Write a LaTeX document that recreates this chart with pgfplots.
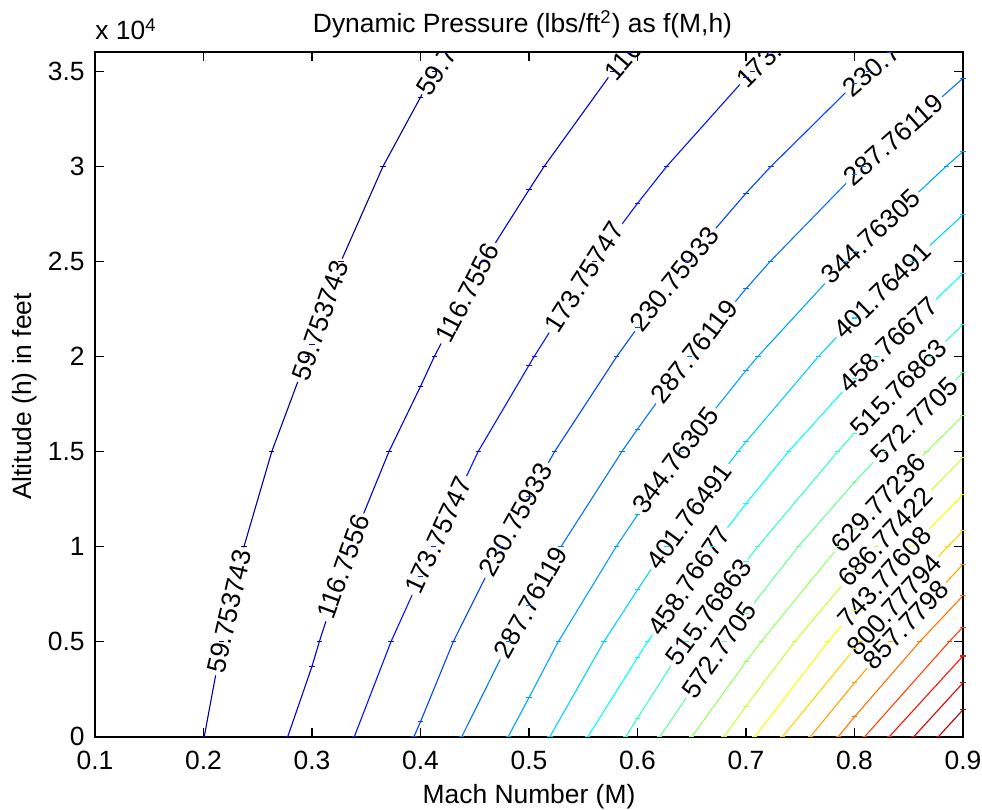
\documentclass[border=0pt]{standalone}
\usepackage{fontspec}
\setmainfont{Liberation Sans}
\usepackage{pgfplots}
\pgfplotsset{compat=1.18}
\definecolor{c1}{rgb}{0,0,0.62}
\definecolor{c2}{rgb}{0,0,0.85}
\definecolor{c3}{rgb}{0,0.07,1}
\definecolor{c4}{rgb}{0,0.26,1}
\definecolor{c5}{rgb}{0,0.45,1}
\definecolor{c6}{rgb}{0,0.64,1}
\definecolor{c7}{rgb}{0,0.83,1}
\definecolor{c8}{rgb}{0.02,1,0.98}
\definecolor{c9}{rgb}{0.21,1,0.79}
\definecolor{c10}{rgb}{0.40,1,0.60}
\definecolor{c11}{rgb}{0.60,1,0.40}
\definecolor{c12}{rgb}{0.79,1,0.21}
\definecolor{c13}{rgb}{0.98,1,0.02}
\definecolor{c14}{rgb}{1,0.83,0}
\definecolor{c15}{rgb}{1,0.64,0}
\definecolor{c16}{rgb}{1,0.45,0}
\definecolor{c17}{rgb}{1,0.26,0}
\definecolor{c18}{rgb}{1,0.07,0}
\definecolor{c19}{rgb}{0.88,0,0}
\definecolor{c20}{rgb}{0.69,0,0}
\newcommand\f{\fontsize{13.2}{15.8}\selectfont}
\tikzset{lab/.style={fill=white, inner sep=1.5pt, font=\f, text=black},
         toplab/.style={fill=white, inner sep=0.8pt, font=\f, text=black, anchor=west}}
\begin{document}
\begin{tikzpicture}
\useasboundingbox (-47.5pt,-36.65pt) rectangle (443.5pt,368.35pt);
\begin{axis}[
  at={(0pt,0pt)}, anchor=south west,
  scale only axis, width=434pt, height=342.2pt,
  xmin=0.1, xmax=0.9, ymin=0, ymax=36000,
  xtick={0.1,0.2,0.3,0.4,0.5,0.6,0.7,0.8,0.9},
  xticklabels={0.1,0.2,0.3,0.4,0.5,0.6,0.7,0.8,0.9},
  ytick={0,5000,10000,15000,20000,25000,30000,35000},
  yticklabels={0,0.5,1,1.5,2,2.5,3,3.5},
  scaled ticks=false,
  tick align=inside, major tick length=4.5pt,
  axis line style={line width=1pt},
  tick style={line width=0.6pt, black},
  xticklabel style={font=\f, anchor=base, yshift=-16.4pt, inner sep=0pt},
  yticklabel style={font=\f, anchor=east, xshift=-5pt, inner sep=0pt},
  axis on top,
  every axis plot/.append style={line width=0.55pt, mark=-, mark size=1.3pt, mark options={solid}},
]
\addplot[c1] coordinates {(0.20068,0) (0.21696,5000) (0.23731,10000) (0.26295,15000) (0.29557,20000) (0.3,20639) (0.32670,25000) (0.36547,30000) (0.4,33637) (0.41270,35000) (0.42205,36000)};
\addplot[c2] coordinates {(0.27764,0) (0.3,3699) (0.30675,5000) (0.33516,10000) (0.37094,15000) (0.4,18423) (0.41279,20000) (0.45821,25000) (0.5,28766) (0.514,30000) (0.57725,35000) (0.59216,36000)};
\addplot[c3] coordinates {(0.339,0) (0.37283,5000) (0.4,8427) (0.41173,10000) (0.45316,15000) (0.5,19539) (0.50478,20000) (0.56008,25000) (0.6,28054) (0.62691,30000) (0.7,34669) (0.70567,35000) (0.72195,36000)};
\addplot[c4] coordinates {(0.39397,0) (0.4,785) (0.43025,5000) (0.47391,10000) (0.5,12618) (0.52366,15000) (0.5809,20000) (0.6,21516) (0.64598,25000) (0.7,28588) (0.72304,30000) (0.8,34343) (0.81296,35000) (0.83204,36000)};
\addplot[c5] coordinates {(0.43806,0) (0.48164,5000) (0.5,6905) (0.52952,10000) (0.58566,15000) (0.6,16180) (0.64826,20000) (0.7,23567) (0.7223,25000) (0.8,29557) (0.80832,30000) (0.9,34633)};
\addplot[c6] coordinates {(0.48082,0) (0.5,2056) (0.52702,5000) (0.58039,10000) (0.6,11670) (0.64031,15000) (0.7,19263) (0.71098,20000) (0.79143,25000) (0.8,25503) (0.88453,30000) (0.9,30782)};
\addplot[c7] coordinates {(0.51929,0) (0.56906,5000) (0.6,7725) (0.62645,10000) (0.69276,15000) (0.7,15517) (0.76681,20000) (0.8,22022) (0.85344,25000) (0.9,27446)};
\addplot[c8] coordinates {(0.55427,0) (0.6,4160) (0.6094,5000) (0.66949,10000) (0.7,12256) (0.73918,15000) (0.8,18837) (0.81997,20000) (0.9,24364)};
\addplot[c9] coordinates {(0.58925,0) (0.6,978) (0.64497,5000) (0.7,9208) (0.71086,10000) (0.78464,15000) (0.8,15969) (0.86923,20000) (0.9,21678)};
\addplot[c10] coordinates {(0.62051,0) (0.68055,5000) (0.7,6488) (0.74817,10000) (0.8,13386) (0.82656,15000) (0.9,19150)};
\addplot[c11] coordinates {(0.65011,0) (0.7,3941) (0.71397,5000) (0.78547,10000) (0.8,10949) (0.86667,15000) (0.9,16883)};
\addplot[c12] coordinates {(0.6797,0) (0.7,1603) (0.7448,5000) (0.8,8729) (0.82009,10000) (0.9,14675)};
\addplot[c13] coordinates {(0.70806,0) (0.77564,5000) (0.8,6646) (0.85301,10000) (0.9,12749)};
\addplot[c14] coordinates {(0.73372,0) (0.8,4625) (0.80571,5000) (0.88592,10000) (0.9,10824)};
\addplot[c15] coordinates {(0.75937,0) (0.8,2835) (0.83291,5000) (0.9,9058)};
\addplot[c16] coordinates {(0.78502,0) (0.8,1045) (0.86012,5000) (0.9,7413)};
\addplot[c17] coordinates {(0.80942,0) (0.88732,5000) (0.9,5767)};
\addplot[c18] coordinates {(0.83206,0) (0.9,4245)};
\addplot[c19] coordinates {(0.85469,0) (0.9,2831)};
\addplot[c20] coordinates {(0.87733,0) (0.9,1417)};
% labels
\node[lab,rotate=77] at (axis cs:0.22376,6600) {59.753743};
\node[lab,rotate=70.7] at (axis cs:0.3077,21900) {59.753743};
\node[toplab,rotate=58] at (axis cs:0.4012,33768) {59.75};
\node[lab,rotate=70] at (axis cs:0.32909,8932) {116.7556};
\node[lab,rotate=62.6] at (axis cs:0.44322,23350) {116.7556};
\node[toplab,rotate=49] at (axis cs:0.5730,34668) {116.7};
\node[lab,rotate=65] at (axis cs:0.41666,10595) {173.75747};
\node[lab,rotate=57.7] at (axis cs:0.55088,24168) {173.75747};
\node[toplab,rotate=45] at (axis cs:0.6942,34300) {173.7};
\node[lab,rotate=61] at (axis cs:0.48791,11405) {230.75933};
\node[lab,rotate=51] at (axis cs:0.6339,24085) {230.75933};
\node[toplab,rotate=41] at (axis cs:0.7915,33863) {230.75};
\node[lab,rotate=61] at (axis cs:0.50148,7060) {287.76119};
\node[lab,rotate=52] at (axis cs:0.65218,20270) {287.76119};
\node[lab,rotate=41.5] at (axis cs:0.8361,31405) {287.76119};
\node[lab,rotate=53] at (axis cs:0.63486,14550) {344.76305};
\node[lab,rotate=43] at (axis cs:0.815,26300) {344.76305};
\node[lab,rotate=53.5] at (axis cs:0.64767,11600) {401.76491};
\node[lab,rotate=44.3] at (axis cs:0.8258,23458) {401.76491};
\node[lab,rotate=55.5] at (axis cs:0.64786,8200) {458.76677};
\node[lab,rotate=43.7] at (axis cs:0.8313,20616) {458.76677};
\node[lab,rotate=53.3] at (axis cs:0.66541,6563) {515.76863};
\node[lab,rotate=45.6] at (axis cs:0.8409,18353) {515.76863};
\node[lab,rotate=55] at (axis cs:0.6753,4563) {572.7705};
\node[lab,rotate=44.7] at (axis cs:0.8552,16616) {572.7705};
\node[lab,rotate=46.8] at (axis cs:0.82189,12279) {629.77236};
\node[lab,rotate=46.5] at (axis cs:0.8286,10500) {686.77422};
\node[lab,rotate=47.9] at (axis cs:0.8278,8405) {743.77608};
\node[lab,rotate=47.5] at (axis cs:0.83669,6931) {800.77794};
\node[lab,rotate=46.6] at (axis cs:0.84744,5879) {857.7798};
\end{axis}
\node[font=\f, anchor=base] at (213.75pt,352pt) {Dynamic Pressure (lbs/ft\textsuperscript{2}) as f(M,h)};
\node[font=\f, anchor=base west, inner sep=0pt] at (0pt,348.35pt) {x 10\textsuperscript{4}};
\node[font=\f, anchor=base] at (217pt,-33.15pt) {Mach Number (M)};
\node[font=\f, anchor=base, rotate=90] at (-31.5pt,170.1pt) {Altitude (h) in feet};
\end{tikzpicture}
\end{document}
